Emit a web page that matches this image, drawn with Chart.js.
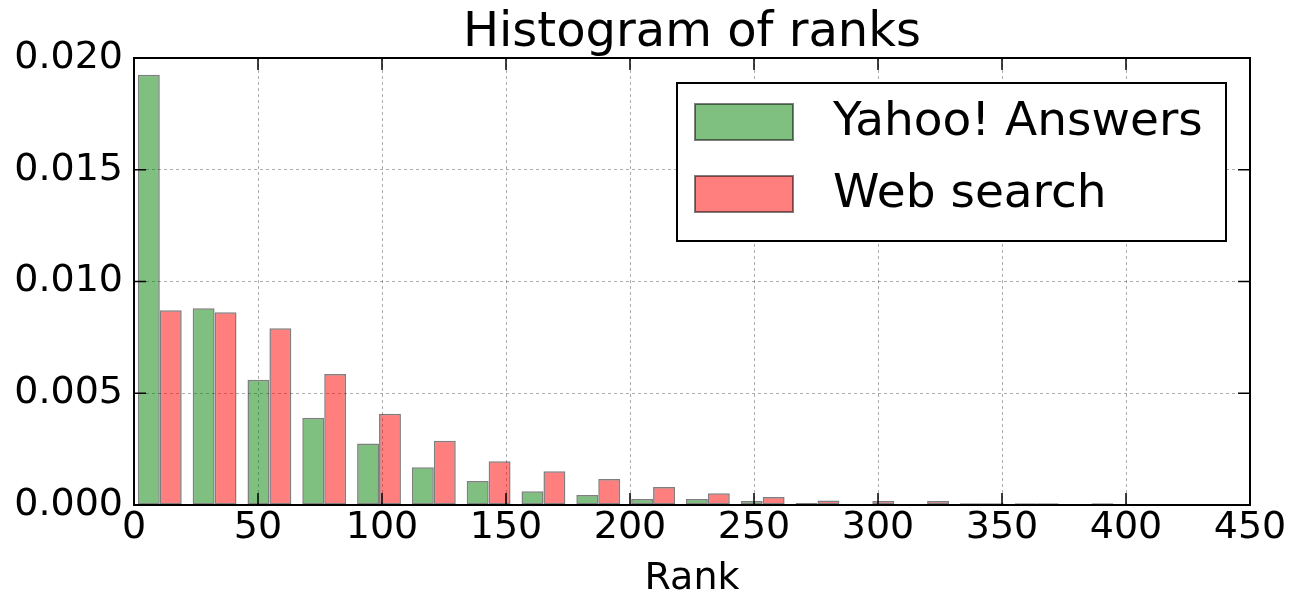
<!DOCTYPE html>
<html>
<head>
<meta charset="utf-8">
<script src="https://cdn.jsdelivr.net/npm/chart.js@4.4.0/dist/chart.umd.min.js"></script>
<style>
  html, body { margin: 0; padding: 0; background: #fff; }
  #wrap { width: 1291px; height: 594px; position: relative; }
</style>
</head>
<body>
<div id="wrap"><canvas id="histChart"></canvas></div>
<script>
// bin centres (rank), bin width ~22.1
const binCenters = [10.4, 32.5, 54.6, 76.7, 98.8, 120.9, 143.0, 165.1, 187.2,
    209.3, 231.4, 253.5, 275.6, 297.7, 319.8, 341.9, 364.0, 386.1];
const yahooValues = [0.01925, 0.00880, 0.00560, 0.00390, 0.00275, 0.00169, 0.00107, 0.00062, 0.000445,
    0.00027, 0.00027, 0.00018, 0.00009, 0, 0, 0.00008, 0.00008, 0];
const webValues = [0.00871, 0.00862, 0.00791, 0.00586, 0.00408, 0.00288, 0.00196, 0.00151, 0.00116,
    0.00080, 0.00053, 0.00036, 0.00020, 0.00018, 0.00018, 0.00008, 0.00008, 0.00008];
const xTicks = [0, 50, 100, 150, 200, 250, 300, 350, 400, 450];
const yTicks = [0, 0.005, 0.010, 0.015, 0.020];

const FONT = "'DejaVu Sans', sans-serif";

function toPoints(vals) {
    return vals.map((v, i) => ({ x: binCenters[i], y: v }));
}

// frame, inward ticks and boxed legend in matplotlib style
const framePlugin = {
    id: "frame",
    afterDraw(chart) {
        const ctx = chart.ctx;
        const a = chart.chartArea;
        const xs = chart.scales.x, ys = chart.scales.y;
        ctx.save();
        ctx.strokeStyle = "#000";
        ctx.lineWidth = 1.5;
        const tl = 12;
        ctx.beginPath();
        xTicks.forEach(t => {
            const px = xs.getPixelForValue(t);
            ctx.moveTo(px, a.bottom); ctx.lineTo(px, a.bottom - tl);
            ctx.moveTo(px, a.top); ctx.lineTo(px, a.top + tl);
        });
        yTicks.forEach(t => {
            const py = ys.getPixelForValue(t);
            ctx.moveTo(a.left, py); ctx.lineTo(a.left + tl, py);
            ctx.moveTo(a.right, py); ctx.lineTo(a.right - tl, py);
        });
        ctx.stroke();
        ctx.lineWidth = 2;
        ctx.strokeRect(a.left, a.top, a.right - a.left, a.bottom - a.top);

        // legend
        const lw = 549, lh = 158;
        const lx = a.right - 24 - lw, ly = a.top + 25;
        ctx.fillStyle = "#fff";
        ctx.fillRect(lx, ly, lw, lh);
        ctx.strokeStyle = "#000";
        ctx.lineWidth = 2;
        ctx.strokeRect(lx, ly, lw, lh);
        ctx.font = "47px " + FONT;
        ctx.textBaseline = "middle";
        ctx.textAlign = "left";
        chart.data.datasets.forEach((ds, i) => {
            const cy = ly + 39 + i * 72;
            ctx.fillStyle = ds.backgroundColor;
            ctx.fillRect(lx + 18, cy - 18, 98, 36);
            ctx.strokeStyle = ds.borderColor;
            ctx.lineWidth = 2;
            ctx.strokeRect(lx + 18, cy - 18, 98, 36);
            ctx.fillStyle = "#000";
            ctx.fillText(ds.label, lx + 156, cy + 1);
        });
        ctx.restore();
    }
};

new Chart(document.getElementById("histChart"), {
    type: "bar",
    data: {
        datasets: [
            {
                label: "Yahoo! Answers",
                data: toPoints(yahooValues),
                backgroundColor: "rgba(0,128,0,0.5)",
                borderColor: "rgba(0,0,0,0.5)",
                borderWidth: 1.5,
                borderSkipped: false
            },
            {
                label: "Web search",
                data: toPoints(webValues),
                backgroundColor: "rgba(255,0,0,0.5)",
                borderColor: "rgba(0,0,0,0.5)",
                borderWidth: 1.5,
                borderSkipped: false
            }
        ]
    },
    options: {
        responsive: true,
        maintainAspectRatio: false,
        animation: false,
        categoryPercentage: 0.8,
        barPercentage: 1.0,
        layout: {
            padding: { left: 0, right: 41, top: 0, bottom: 0 }
        },
        plugins: {
            legend: { display: false },
            tooltip: { enabled: false },
            title: {
                display: true,
                fullSize: false,
                text: "Histogram of ranks",
                color: "#000",
                font: { family: FONT, size: 48, weight: "normal", lineHeight: 1 },
                padding: { top: 10, bottom: 0 }
            }
        },
        scales: {
            x: {
                type: "linear",
                min: 0,
                max: 450,
                offset: false,
                z: 1,
                afterFit: s => { s.height = 89; },
                afterBuildTicks: s => { s.ticks = xTicks.map(v => ({ value: v })); },
                ticks: {
                    color: "#000",
                    padding: 0,
                    maxRotation: 0,
                    font: { family: FONT, size: 38 }
                },
                grid: {
                    offset: false,
                    color: "rgba(0,0,0,0.32)",
                    lineWidth: 1,
                    drawTicks: false
                },
                border: { display: false, dash: [3, 3] },
                title: {
                    display: true,
                    text: "Rank",
                    color: "#000",
                    font: { family: FONT, size: 38, lineHeight: 1 },
                    padding: { top: 0, bottom: -4 }
                }
            },
            y: {
                min: 0,
                max: 0.02,
                z: 1,
                afterFit: s => { s.width = 134; },
                afterBuildTicks: s => { s.ticks = yTicks.map(v => ({ value: v })); },
                ticks: {
                    color: "#000",
                    padding: 11,
                    font: { family: FONT, size: 38 },
                    callback: v => Number(v).toFixed(3)
                },
                grid: {
                    color: "rgba(0,0,0,0.32)",
                    lineWidth: 1,
                    drawTicks: false
                },
                border: { display: false, dash: [3, 3] }
            }
        }
    },
    plugins: [framePlugin]
});
</script>
</body>
</html>
